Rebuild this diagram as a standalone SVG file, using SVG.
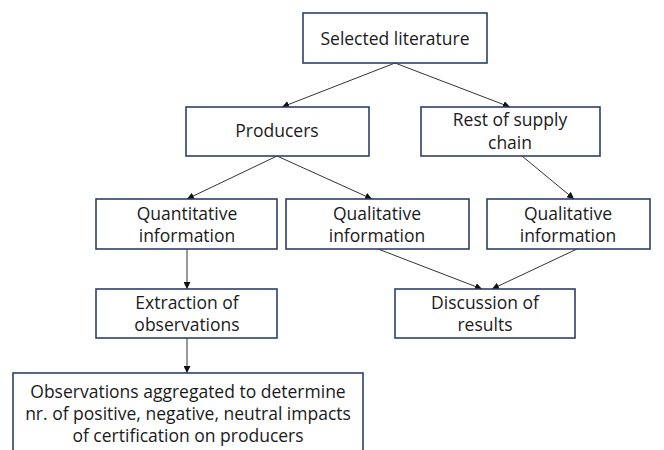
<svg xmlns="http://www.w3.org/2000/svg" width="664" height="450" viewBox="0 0 664 450">
<defs>
<marker id="ah" viewBox="0 0 10 10" refX="10" refY="5" markerWidth="7" markerHeight="7" orient="auto-start-reverse" markerUnits="userSpaceOnUse">
<path d="M0,0 L10,5 L0,10 z" fill="#111"/>
</marker>
<style>
.box{fill:#fff;stroke:#2e3f6e;stroke-width:1.6}
.t{font-family:"Open Sans","Noto Sans",sans-serif;font-size:17.5px;fill:#1a1a1a;text-anchor:middle}
.c{stroke:#333;stroke-width:1;fill:none;marker-end:url(#ah)}
</style>
</defs>
<rect width="664" height="450" fill="#fff"/>
<g id="connectors">
<line class="c" x1="395" y1="63" x2="282" y2="107"/>
<line class="c" x1="395" y1="63" x2="510" y2="107"/>
<line class="c" x1="277" y1="156" x2="187" y2="199"/>
<line class="c" x1="277" y1="156" x2="372" y2="199"/>
<line class="c" x1="522" y1="156" x2="574" y2="199"/>
<line class="c" x1="187" y1="249" x2="187" y2="289"/>
<line class="c" x1="378" y1="249" x2="482" y2="289"/>
<line class="c" x1="577" y1="249" x2="492" y2="289"/>
<line class="c" x1="187" y1="338" x2="187" y2="373"/>
</g>
<g id="selected-literature">
<rect class="box" x="303" y="13" width="184" height="50"/>
<text class="t" x="395" y="45">Selected literature</text>
</g>
<g id="producers">
<rect class="box" x="186" y="107" width="183" height="49"/>
<text class="t" x="277" y="137">Producers</text>
</g>
<g id="rest-supply-chain">
<rect class="box" x="421" y="107" width="179" height="49"/>
<text class="t" x="510" y="126">Rest of supply</text>
<text class="t" x="510" y="149">chain</text>
</g>
<g id="quantitative">
<rect class="box" x="96" y="199" width="181" height="50"/>
<text class="t" x="187" y="220">Quantitative</text>
<text class="t" x="187" y="242">information</text>
</g>
<g id="qualitative-producers">
<rect class="box" x="286" y="199" width="183" height="50"/>
<text class="t" x="377" y="220">Qualitative</text>
<text class="t" x="377" y="242">information</text>
</g>
<g id="qualitative-chain">
<rect class="box" x="487" y="199" width="163" height="50"/>
<text class="t" x="568" y="220">Qualitative</text>
<text class="t" x="568" y="242">information</text>
</g>
<g id="extraction">
<rect class="box" x="96" y="289" width="181" height="49"/>
<text class="t" x="187" y="309">Extraction of</text>
<text class="t" x="187" y="331">observations</text>
</g>
<g id="discussion">
<rect class="box" x="395" y="289" width="180" height="49"/>
<text class="t" x="485" y="309">Discussion of</text>
<text class="t" x="485" y="331">results</text>
</g>
<g id="aggregated">
<rect class="box" x="13" y="373" width="350" height="90"/>
<text class="t" x="188" y="398">Observations aggregated to determine</text>
<text class="t" x="188" y="420">nr. of positive, negative, neutral impacts</text>
<text class="t" x="188" y="442">of certification on producers</text>
</g>
</svg>
